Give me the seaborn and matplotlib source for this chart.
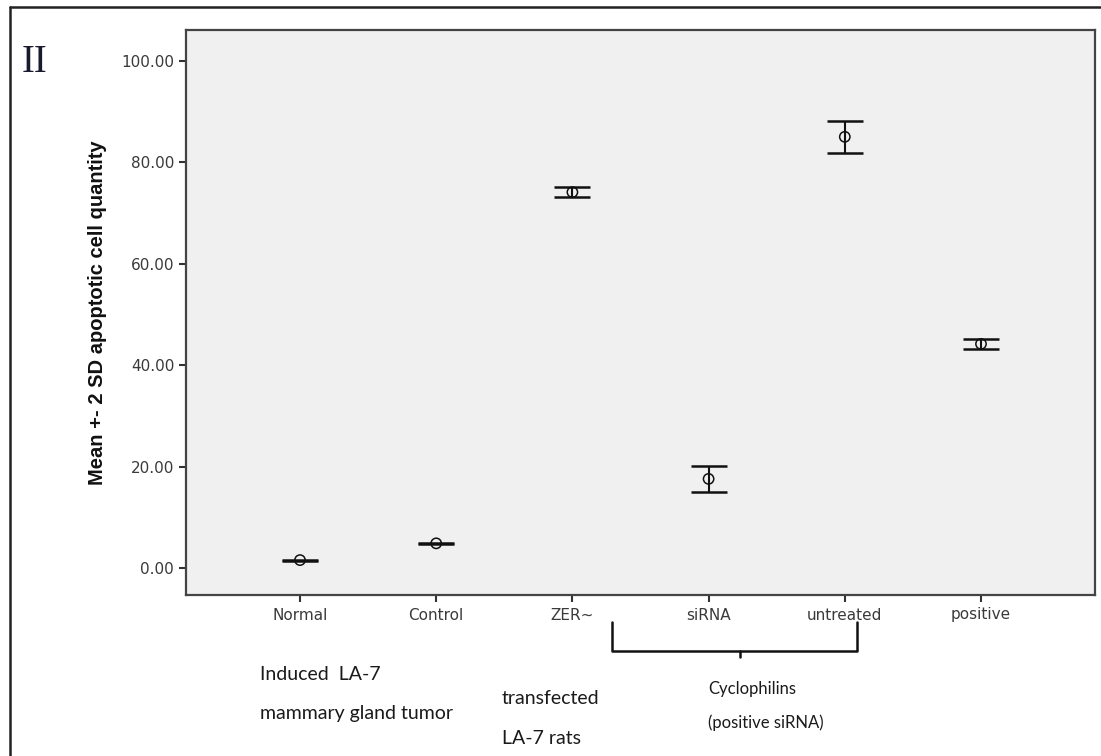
import matplotlib
matplotlib.use("Agg")
import matplotlib.pyplot as plt
from matplotlib.lines import Line2D
import seaborn as sns
import pandas as pd

groups = ["Normal", "Control", "ZER", "siRNA", "untreated", "positive"]
tick_labels = ["Normal", "Control", "ZER~", "siRNA", "untreated", "positive"]
means = [1.6, 4.9, 74.1, 17.6, 85.0, 44.2]
two_sd = [0.1, 0.1, 1.0, 2.6, 3.15, 1.0]
y_ticks = [0, 20, 40, 60, 80, 100]

sns.set_style("white")
plt.rcParams['font.family'] = ['DejaVu Sans']

W, H = 1101, 756
fig = plt.figure(figsize=(W / 100, H / 100), dpi=100)


def px(x, y):
    # figure pixel position (from top-left) -> figure fraction
    return x / W, 1 - y / H


ax = fig.add_axes([186 / W, 1 - 595 / H, (1095 - 186) / W, (595 - 30) / H])
ax.set_facecolor("#f0f0f0")

df = pd.DataFrame({"group": groups, "mean": means, "sd2": two_sd})
sns.scatterplot(data=df, x="group", y="mean", ax=ax, marker="o", s=55,
                facecolor="none", edgecolor="#111111", linewidth=1.1, zorder=3)
ax.errorbar(df["group"], df["mean"], yerr=df["sd2"], fmt="none",
            ecolor="#111111", elinewidth=1.5, capsize=13, capthick=1.8, zorder=2)

ax.set_xlim(-0.837, 5.837)
ax.set_ylim(-5.28, 106.05)
ax.set_yticks(y_ticks)
ax.set_yticklabels([f"{v:.2f}" for v in y_ticks], fontfamily="DejaVu Sans")
ax.set_xticks(range(len(groups)))
ax.set_xticklabels(tick_labels, fontfamily="DejaVu Sans")
ax.tick_params(axis="both", direction="out", length=5, width=1.5, color="#333333",
               labelsize=11, labelcolor="#3a3a3a", left=True, bottom=True)
ax.tick_params(axis="x", pad=4)
ax.set_xlabel("")
ax.set_ylabel("Mean +- 2 SD apoptotic cell quantity", fontsize=14.5, fontweight="bold",
              family=["Liberation Sans Narrow", "Liberation Sans"], color="#111111",
              labelpad=10)
for s in ax.spines.values():
    s.set_color("#444444")
    s.set_linewidth(1.6)

# outer frame
fig.add_artist(Line2D([10 / W, 10 / W], [0, 1 - 7 / H], color="#222222", lw=1.8))
fig.add_artist(Line2D([10 / W, 1], [1 - 7 / H, 1 - 7 / H], color="#222222", lw=1.8))

fig.text(*px(22, 62), "II", family="Liberation Serif", fontsize=28, color="#1a1a2e",
         va="center", ha="left")

# bracket for the cyclophilin groups
bx = [612, 612, 857, 857]
by = [622, 651, 651, 622]
fig.add_artist(Line2D([px(x, y)[0] for x, y in zip(bx, by)],
                      [px(x, y)[1] for x, y in zip(bx, by)],
                      color="#111111", lw=1.8))
fig.add_artist(Line2D([740 / W, 740 / W], [1 - 651 / H, 1 - 657 / H], color="#111111", lw=1.8))

note = dict(family="Lato", fontsize=14, color="#1a1a1a", va="center", ha="left")
fig.text(*px(260, 675), "Induced  LA-7", **note)
fig.text(*px(260, 714), "mammary gland tumor", **note)
fig.text(*px(502, 698), "transfected", **note)
fig.text(*px(502, 738), "LA-7 rats", **note)
note["fontsize"] = 12
fig.text(*px(708, 689), "Cyclophilins", **note)
fig.text(*px(708, 723), "(positive siRNA)", **note)

fig.savefig("out.png", dpi=100)
